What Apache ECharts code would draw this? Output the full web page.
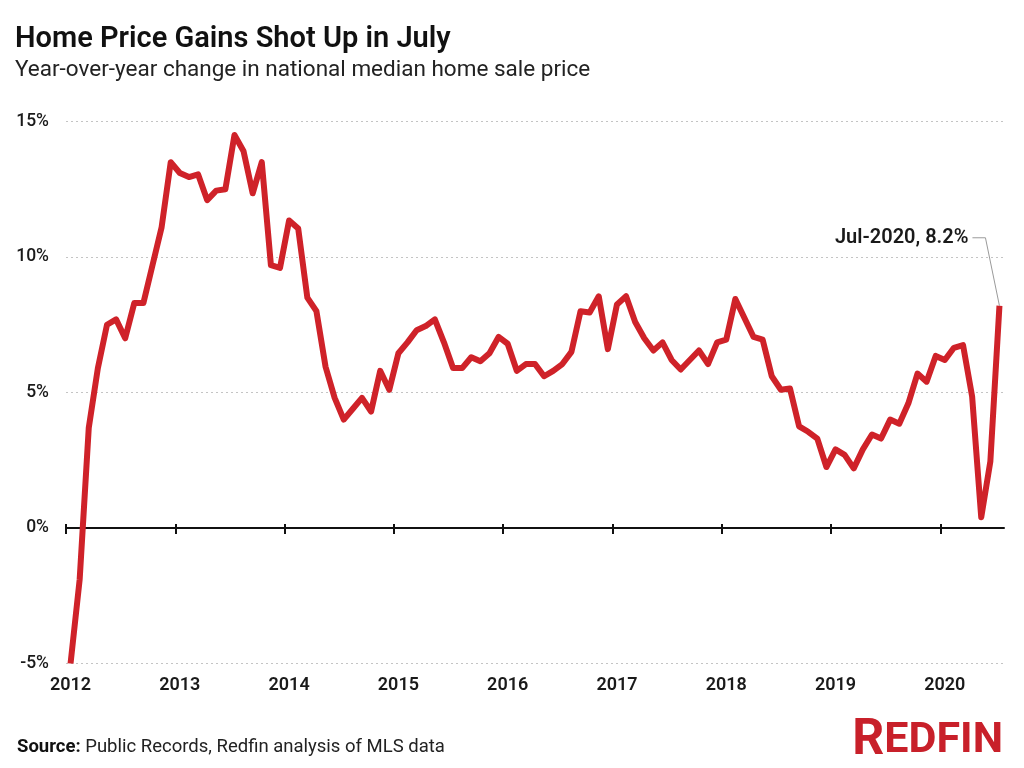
<!DOCTYPE html>
<html>
<head>
<meta charset="utf-8">
<script src="https://cdn.jsdelivr.net/npm/echarts/dist/echarts.min.js"></script>
<style>
html,body{margin:0;padding:0;background:#fff}
#c{width:1024px;height:768px}
</style>
</head>
<body>
<div id="c"></div>
<script>
// ---- data (year-over-year % change, monthly) ----
const years = [2012, 2013, 2014, 2015, 2016, 2017, 2018, 2019, 2020];
const months = ['Jan','Feb','Mar','Apr','May','Jun','Jul','Aug','Sep','Oct','Nov','Dec'];
const v2012 = [-5.0, -1.9, 3.7, 5.9, 7.5, 7.7, 7.0, 8.3, 8.3, 9.7, 11.1, 13.5];
const v2013 = [13.1, 12.95, 13.05, 12.1, 12.45, 12.5, 14.5, 13.9, 12.35, 13.5, 9.7, 9.6];
const v2014 = [11.35, 11.05, 8.5, 8.0, 5.95, 4.8, 4.0, 4.4, 4.8, 4.3, 5.8, 5.1];
const v2015 = [6.45, 6.85, 7.3, 7.45, 7.7, 6.85, 5.9, 5.9, 6.3, 6.15, 6.45, 7.05];
const v2016 = [6.8, 5.8, 6.05, 6.05, 5.6, 5.8, 6.05, 6.5, 8.0, 7.95, 8.55, 6.6];
const v2017 = [8.25, 8.55, 7.6, 7.0, 6.55, 6.85, 6.2, 5.85, 6.2, 6.55, 6.05, 6.85];
const v2018 = [6.95, 8.45, 7.75, 7.05, 6.95, 5.6, 5.1, 5.15, 3.75, 3.55, 3.3, 2.25];
const v2019 = [2.9, 2.7, 2.2, 2.9, 3.45, 3.3, 4.0, 3.85, 4.6, 5.7, 5.4, 6.35];
const v2020 = [6.2, 6.65, 6.75, 4.85, 0.4, 2.45, 8.2];
const yTicks = { min: -5, max: 15, step: 5 };
const titleText = 'Home Price Gains Shot Up in July';
const subtitleText = 'Year-over-year change in national median home sale price';
const sourceLabel = 'Source:';
const sourceText = 'Public Records, Redfin analysis of MLS data';
const logoText = 'REDFIN';

// ---- build ----
const yearValues = [v2012, v2013, v2014, v2015, v2016, v2017, v2018, v2019, v2020];
const categories = [];
const values = [];
yearValues.forEach(function (arr, yi) {
  arr.forEach(function (v, mi) {
    categories.push(months[mi] + '-' + years[yi]);
    values.push(v);
  });
});
// month boundaries (one more than months) used only for the year tick marks
const boundaries = categories.map(function (c) { return 'start ' + c; }).concat(['end']);
const lastIdx = values.length - 1;
const lastLabel = categories[lastIdx] + ', ' + values[lastIdx].toFixed(1) + '%';

const FONT = 'Roboto';
const RED = '#cf2229';
const chart = echarts.init(document.getElementById('c'), null, { renderer: 'canvas' });

const staticGraphics = [
  {
    id: 'source', type: 'text', x: 17, y: 747,
    style: {
      text: '{b|' + sourceLabel + '} ' + sourceText,
      verticalAlign: 'middle', fontFamily: FONT, fontSize: 18.5, fill: '#222222',
      rich: { b: { fontFamily: FONT, fontSize: 18.5, fontWeight: 'bold', fill: '#111111' } }
    }
  },
  {
    id: 'logo', type: 'text', x: 1003, y: 741,
    style: {
      text: '{r|' + logoText.charAt(0) + '}{o|' + logoText.slice(1) + '}',
      align: 'right', verticalAlign: 'middle',
      rich: {
        r: { fontFamily: FONT, fontSize: 50, fontWeight: 'bold', fill: '#c8202a' },
        o: { fontFamily: FONT, fontSize: 43, fontWeight: 'bold', fill: '#c8202a' }
      }
    }
  }
];

function tickAxis(inside, len, showLine) {
  return {
    type: 'category', data: boundaries, boundaryGap: false, position: 'bottom',
    axisLine: { show: true, onZero: true, onZeroAxisIndex: 0,
      lineStyle: { color: '#111111', width: showLine ? 2 : 0, opacity: showLine ? 1 : 0 } },
    axisTick: { show: true, inside: inside, interval: 11, length: len, lineStyle: { color: '#111111', width: 2 } },
    axisLabel: { show: false }, splitLine: { show: false }
  };
}

const option = {
  animation: false,
  backgroundColor: '#ffffff',
  title: {
    text: titleText,
    subtext: subtitleText,
    left: 10,
    top: 20,
    itemGap: 5,
    textStyle: { fontFamily: FONT, fontSize: 29, fontWeight: 600, color: '#111111' },
    subtextStyle: { fontFamily: FONT, fontSize: 22.5, fontWeight: 400, color: '#222222' }
  },
  grid: { left: 66, right: 20, top: 121.5, bottom: 104.5 },
  xAxis: [
    {
      type: 'category', data: categories, boundaryGap: true, position: 'bottom',
      axisLine: { show: false, onZero: false }, axisTick: { show: false }, splitLine: { show: false },
      axisLabel: {
        interval: 11, margin: 13,
        formatter: function (v) { return v.split('-')[1]; },
        fontFamily: FONT, fontSize: 18, fontWeight: 600, color: '#1a1a1a'
      }
    },
    tickAxis(false, 6, true),
    tickAxis(true, 4, false)
  ],
  yAxis: {
    type: 'value', min: yTicks.min, max: yTicks.max, interval: yTicks.step,
    axisLine: { show: false }, axisTick: { show: false },
    axisLabel: { formatter: '{value}%', margin: 17, fontFamily: FONT, fontSize: 17.5, fontWeight: 500, color: '#1a1a1a' },
    splitLine: { show: true, lineStyle: { type: [2, 3], color: '#c4c4c4', width: 1 } }
  },
  series: [{
    type: 'line', data: values, xAxisIndex: 0, yAxisIndex: 0,
    symbol: 'none', smooth: false, z: 5,
    lineStyle: { color: RED, width: 6, join: 'round', cap: 'butt' }
  }],
  graphic: staticGraphics
};
chart.setOption(option);

// annotation for the last point, placed from the library's own scale
const p = chart.convertToPixel({ xAxisIndex: 0, yAxisIndex: 0 }, [categories[lastIdx], values[lastIdx]]);
chart.setOption({
  graphic: staticGraphics.concat([
    {
      id: 'leader', type: 'polyline', silent: true, z: 10,
      shape: { points: [[p[0] - 27, p[1] - 68], [p[0] - 14, p[1] - 68], [p[0], p[1]]] },
      style: { stroke: '#9a9a9a', lineWidth: 1, fill: null }
    },
    {
      id: 'lastLabel', type: 'text', z: 10, x: p[0] - 31, y: p[1] - 68,
      style: { text: lastLabel, align: 'right', verticalAlign: 'middle', fontFamily: FONT, fontSize: 20, fontWeight: 600, fill: '#1a1a1a' }
    }
  ])
});
</script>
</body>
</html>
